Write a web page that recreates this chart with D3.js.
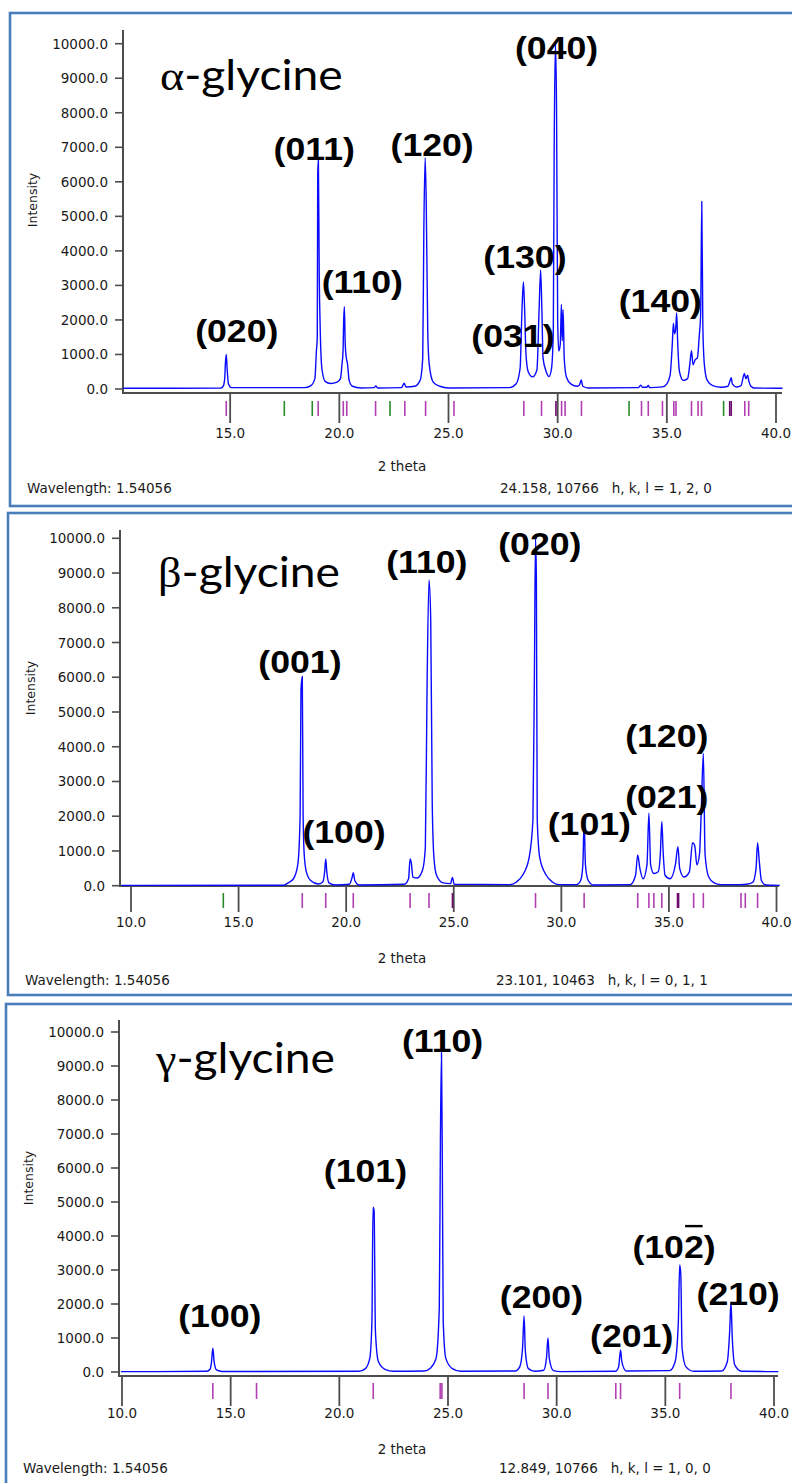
<!DOCTYPE html>
<html>
<head>
<meta charset="utf-8">
<script src="https://cdn.jsdelivr.net/npm/d3@7"></script>
<style>
  body { margin: 0; background: #fff; }
  svg text { fill: #1a1a1a; }
  .tick-text { font-family: "DejaVu Sans", Verdana, sans-serif; font-size: 13.5px; }
  .hkl { font-family: "Liberation Sans", Arial, sans-serif; font-weight: bold; font-size: 31px; fill: #000; }
</style>
</head>
<body>
<svg id="chart" width="792" height="1483"></svg>
<script>
"use strict";

// ---- data ----
const intensityTicks = [0, 1000, 2000, 3000, 4000, 5000, 6000, 7000, 8000, 9000, 10000];
const alphaThetaTicks = [15, 20, 25, 30, 35, 40];
const thetaTicks = [10, 15, 20, 25, 30, 35, 40];

// [2theta, intensity]
const alphaProfile = [
  [10.1, 20], [14.55, 25], [14.68, 80], [14.75, 300], [14.78, 720], [14.82, 1000], [14.86, 600], [14.92, 150], [15.05, 40],
  [18.4, 40], [18.7, 100], [18.88, 300], [18.95, 1100], [18.99, 1500], [19.01, 6200], [19.04, 6650], [19.08, 3250],
  [19.12, 1850], [19.2, 600], [19.35, 220], [19.6, 160], [19.9, 200], [20.05, 300], [20.12, 700], [20.17, 1100],
  [20.2, 2000], [20.23, 2380], [20.27, 1300], [20.32, 900], [20.37, 750], [20.45, 250], [20.6, 80], [21.0, 30],
  [21.6, 40], [21.67, 90], [21.75, 30], [22.85, 40], [22.97, 170], [23.05, 60], [23.45, 80], [23.7, 250], [23.82, 900],
  [23.87, 4550], [23.93, 6700], [23.98, 5400], [24.05, 1650], [24.12, 700], [24.3, 200], [24.6, 80], [25.0, 30],
  [27.8, 40], [28.1, 150], [28.28, 600], [28.36, 2190], [28.43, 3100], [28.48, 2430], [28.55, 1000], [28.65, 500],
  [28.85, 350], [29.05, 550], [29.15, 2300], [29.22, 3450], [29.28, 2200], [29.33, 900], [29.45, 550], [29.6, 360],
  [29.72, 600], [29.8, 1700], [29.84, 6900], [29.9, 10000], [29.95, 8000], [30.0, 2000], [30.05, 1100], [30.12, 1300],
  [30.17, 2450], [30.21, 1400], [30.25, 2300], [30.3, 900], [30.4, 350], [30.6, 150], [30.9, 80], [31.0, 120],
  [31.08, 260], [31.15, 80], [31.4, 30], [33.7, 40], [33.8, 110], [33.88, 50], [34.08, 50], [34.15, 100], [34.22, 40],
  [34.8, 60], [35.0, 150], [35.15, 400], [35.25, 1300], [35.3, 1900], [35.35, 1600], [35.4, 1700], [35.45, 2200],
  [35.5, 1300], [35.58, 500], [35.75, 250], [35.95, 300], [36.05, 700], [36.13, 1110], [36.2, 700], [36.3, 850],
  [36.4, 900], [36.48, 1500], [36.55, 2200], [36.6, 5430], [36.65, 1800], [36.72, 700], [36.85, 250], [37.1, 100],
  [37.5, 50], [37.8, 80], [37.9, 250], [37.95, 330], [38.0, 150], [38.2, 60], [38.4, 100], [38.5, 350], [38.55, 450],
  [38.62, 300], [38.7, 400], [38.75, 250], [38.85, 80], [39.0, 30], [40.3, 20]
];
const betaProfile = [
  [9.55, 10], [17.1, 15], [17.3, 80], [17.55, 200], [17.75, 600], [17.86, 2000], [17.9, 5650], [17.96, 6020],
  [18.0, 2000], [18.05, 900], [18.15, 400], [18.35, 150], [18.7, 50], [18.9, 100], [19.0, 400], [19.05, 770],
  [19.1, 400], [19.2, 80], [19.5, 20], [20.15, 40], [20.28, 250], [20.33, 375], [20.4, 150], [20.6, 20],
  [22.7, 40], [22.9, 200], [22.97, 770], [23.03, 650], [23.1, 250], [23.3, 220], [23.55, 450], [23.68, 1100],
  [23.76, 5730], [23.85, 8800], [23.93, 7650], [24.0, 2380], [24.08, 800], [24.2, 300], [24.5, 80], [24.85, 60],
  [24.94, 240], [25.02, 40], [27.6, 30], [27.9, 100], [28.2, 300], [28.5, 800], [28.68, 1900], [28.75, 6200],
  [28.8, 10000], [28.84, 8850], [28.88, 1900], [29.0, 800], [29.3, 300], [29.6, 100], [29.9, 30], [30.7, 30],
  [30.9, 150], [31.0, 600], [31.06, 1840], [31.12, 600], [31.25, 150], [31.5, 20], [33.2, 30], [33.45, 300],
  [33.55, 885], [33.65, 500], [33.8, 200], [33.98, 600], [34.07, 2085], [34.15, 600], [34.3, 350], [34.5, 400],
  [34.6, 900], [34.67, 1840], [34.73, 1000], [34.82, 300], [35.05, 200], [35.3, 600], [35.42, 1125], [35.5, 500],
  [35.7, 250], [35.95, 400], [36.1, 1240], [36.2, 1150], [36.3, 600], [36.42, 900], [36.5, 2090], [36.6, 3810],
  [36.68, 900], [36.85, 250], [37.1, 80], [37.4, 30], [38.3, 30], [38.6, 40], [38.9, 100], [39.05, 500],
  [39.12, 1240], [39.2, 700], [39.3, 150], [39.5, 20], [40.15, 10]
];
const gammaProfile = [
  [9.95, 10], [13.9, 20], [14.05, 80], [14.12, 300], [14.18, 700], [14.24, 300], [14.35, 60], [14.6, 15],
  [20.9, 20], [21.2, 100], [21.4, 400], [21.5, 1500], [21.55, 4850], [21.6, 4750], [21.66, 1200], [21.8, 300],
  [22.1, 80], [22.5, 20], [23.9, 30], [24.2, 120], [24.45, 400], [24.6, 1900], [24.65, 6700], [24.7, 9400],
  [24.74, 6000], [24.78, 1500], [24.9, 400], [25.2, 100], [25.6, 20], [28.1, 30], [28.3, 150], [28.43, 700],
  [28.5, 1650], [28.56, 600], [28.7, 100], [29.0, 20], [29.4, 50], [29.53, 400], [29.6, 1000], [29.66, 400],
  [29.85, 40], [30.2, 10], [32.7, 20], [32.85, 150], [32.94, 650], [33.0, 300], [33.2, 30], [35.2, 40],
  [35.45, 300], [35.6, 1500], [35.66, 3150], [35.71, 2900], [35.77, 700], [35.95, 150], [36.3, 20], [37.6, 30],
  [37.85, 300], [37.96, 1200], [38.02, 2050], [38.08, 1000], [38.2, 200], [38.5, 20], [40.2, 10]
];

// reflection markers (2theta)
const alphaRefl = [14.82, 19.03, 20.18, 20.34, 21.66, 23.0, 23.95, 25.25, 28.45, 29.26, 30.18, 30.34, 31.09,
  33.84, 34.15, 34.8, 35.32, 35.42, 36.13, 36.43, 36.59, 38.57, 38.75];
const alphaReflDark = [29.92, 37.88, 37.95];
const alphaReflGreen = [17.48, 18.76, 22.32, 33.27, 37.6];
const betaRefl = [17.96, 19.05, 20.33, 22.97, 23.85, 28.8, 31.06, 33.55, 34.07, 34.3, 34.67, 36.15, 36.6,
  38.35, 38.55, 39.12];
const betaReflDark = [24.94, 35.4, 35.45];
const betaReflGreen = [14.29];
const gammaRefl = [14.18, 16.19, 21.56, 24.64, 24.72, 28.5, 29.6, 32.72, 32.94, 35.66, 38.02];

// peak labels: [text, 2theta, intensity at label baseline]
const alphaLabels = [["(020)", 15.3, 1360], ["(011)", 18.85, 6640], ["(110)", 21.05, 2780],
  ["(120)", 24.25, 6750], ["(031)", 27.95, 1230], ["(130)", 28.5, 3500], ["(040)", 29.95, 9550],
  ["(140)", 34.7, 2230]];
const betaLabels = [["(001)", 17.85, 6120], ["(100)", 19.9, 1230], ["(110)", 23.75, 8990],
  ["(020)", 29.0, 9520], ["(101)", 31.3, 1460], ["(021)", 34.9, 2240], ["(120)", 34.9, 3980]];
const gammaLabels = [["(100)", 14.5, 1320], ["(101)", 21.2, 5590], ["(110)", 24.75, 9420],
  ["(200)", 29.3, 1880], ["(201)", 33.45, 740], ["(10|2|)", 35.4, 3350], ["(210)", 38.35, 1970]];

const phases = [
  { greek: "α", profile: alphaProfile, refl: alphaRefl, reflDark: alphaReflDark, reflGreen: alphaReflGreen,
    labels: alphaLabels, xticks: alphaThetaTicks, status: "24.158, 10766   h, k, l = 1, 2, 0" },
  { greek: "β", profile: betaProfile, refl: betaRefl, reflDark: betaReflDark, reflGreen: betaReflGreen,
    labels: betaLabels, xticks: thetaTicks, status: "23.101, 10463   h, k, l = 0, 1, 1" },
  { greek: "γ", profile: gammaProfile, refl: gammaRefl, reflDark: [], reflGreen: [],
    labels: gammaLabels, xticks: thetaTicks, status: "12.849, 10766   h, k, l = 1, 0, 0" }
];

// ---- layout of the three screenshots ----
const frames = [
  { left: 10, top: 13, bottom: 506, yAxisX: 123, x0: 121, x1: 776, yTop: 43.7, yZero: 389, axisY: 393, yAxisTop: 30,
    tickLen: 30, markTop: 401, markBot: 416, labelY: 438, thetaY: 471, statusY: 493, intensityY: 200, statusX: 500, axisEnd: 782 },
  { left: 8, top: 513, bottom: 995, yAxisX: 120, x0: 131, x1: 776.5, yTop: 538.3, yZero: 885.7, axisY: 886, yAxisTop: 530,
    tickLen: 26, markTop: 893, markBot: 908, labelY: 927, thetaY: 963, statusY: 985, intensityY: 688, statusX: 496, axisEnd: 779 },
  { left: 6, top: 1004, bottom: 1500, yAxisX: 119, x0: 122, x1: 774, yTop: 1032, yZero: 1372, axisY: 1376, yAxisTop: 1020,
    tickLen: 30, markTop: 1383, markBot: 1399, labelY: 1418, thetaY: 1454, statusY: 1473, intensityY: 1178, statusX: 499, axisEnd: 778 }
];

const svg = d3.select("#chart");
const axisColor = "#4d4d4d";

phases.forEach((p, i) => {
  const f = frames[i];
  const g = svg.append("g").classed("panel", true);
  const x = d3.scaleLinear().domain([10, 40]).range([f.x0, f.x1]);
  const y = d3.scaleLinear().domain([0, 10000]).range([f.yZero, f.yTop]);

  // window frame
  g.append("rect")
    .attr("x", f.left).attr("y", f.top)
    .attr("width", 820).attr("height", f.bottom - f.top)
    .attr("fill", "none").attr("stroke", "#4a7ebb").attr("stroke-width", 2.6);

  // y axis
  g.append("line")
    .attr("x1", f.yAxisX).attr("x2", f.yAxisX)
    .attr("y1", f.yAxisTop).attr("y2", f.axisY + 1)
    .attr("stroke", axisColor).attr("stroke-width", 2);
  const yt = g.append("g").selectAll("g").data(intensityTicks).enter().append("g");
  yt.append("line")
    .attr("x1", f.yAxisX - 8).attr("x2", f.yAxisX)
    .attr("y1", (d) => y(d)).attr("y2", (d) => y(d))
    .attr("stroke", axisColor).attr("stroke-width", 1.6);
  yt.append("text")
    .classed("tick-text", true)
    .attr("x", f.yAxisX - 15).attr("y", (d) => y(d) + 5)
    .attr("text-anchor", "end")
    .text((d) => d3.format(".1f")(d));
  g.append("text")
    .classed("tick-text", true)
    .attr("transform", `translate(${f.left + 27}, ${f.intensityY}) rotate(-90)`)
    .attr("text-anchor", "middle")
    .style("font-size", "12.5px")
    .text("Intensity");

  // x axis
  g.append("line")
    .attr("x1", f.yAxisX).attr("x2", f.axisEnd)
    .attr("y1", f.axisY).attr("y2", f.axisY)
    .attr("stroke", axisColor).attr("stroke-width", 2);
  const xt = g.append("g").selectAll("g").data(p.xticks).enter().append("g");
  xt.append("line")
    .attr("x1", (d) => x(d)).attr("x2", (d) => x(d))
    .attr("y1", f.axisY).attr("y2", f.axisY + f.tickLen)
    .attr("stroke", axisColor).attr("stroke-width", 1.8);
  xt.append("text")
    .classed("tick-text", true)
    .attr("x", (d) => x(d)).attr("y", f.labelY)
    .attr("text-anchor", "middle")
    .text((d) => d3.format(".1f")(d));
  g.append("text")
    .classed("tick-text", true)
    .attr("x", 402).attr("y", f.thetaY)
    .attr("text-anchor", "middle")
    .text("2 theta");

  // status bar
  g.append("text")
    .classed("tick-text", true)
    .attr("x", f.left + 17).attr("y", f.statusY)
    .text("Wavelength: 1.54056");
  g.append("text")
    .classed("tick-text", true)
    .attr("x", f.statusX).attr("y", f.statusY)
    .style("white-space", "pre")
    .text(p.status);

  // reflection markers
  const marks = [
    ...p.refl.map((v) => ({ v, c: "#b13fb1" })),
    ...p.reflDark.map((v) => ({ v, c: "#6e0a6e" })),
    ...p.reflGreen.map((v) => ({ v, c: "#2a8a2a" }))
  ];
  g.append("g").selectAll("line").data(marks).enter().append("line")
    .attr("x1", (d) => x(d.v)).attr("x2", (d) => x(d.v))
    .attr("y1", f.markTop).attr("y2", f.markBot)
    .attr("stroke", (d) => d.c).attr("stroke-width", 1.6);

  // diffraction profile
  const line = d3.line()
    .x((d) => x(d[0]))
    .y((d) => y(d[1]))
    .curve(d3.curveMonotoneX);
  g.append("path")
    .datum(p.profile)
    .attr("d", line)
    .attr("fill", "none")
    .attr("stroke", "#0a0aff")
    .attr("stroke-width", 1.4)
    .attr("stroke-linejoin", "round");

  // title
  const title = g.append("text")
    .attr("transform", `translate(${f.left + 150}, ${y(0) - 299}) scale(1.1, 1)`)
    .style("font-size", "42px").style("fill", "#000");
  title.append("tspan").style("font-family", "'Liberation Serif', serif").text(p.greek);
  title.append("tspan").style("font-family", "Lato, 'Open Sans', sans-serif").text("-glycine");

  // Miller index labels
  p.labels.forEach(([txt, tx, ty]) => {
    const lg = g.append("g")
      .attr("transform", `translate(${x(tx)}, ${y(ty)}) scale(1.15, 1)`);
    const parts = txt.split("|");
    const t = lg.append("text").classed("hkl", true).attr("text-anchor", "middle");
    parts.forEach((s) => t.append("tspan").text(s));
    if (parts.length > 1) {
      // overbar on the negative index
      const start = parts[0].length;
      const box = t.node().getExtentOfChar(start);
      lg.append("line")
        .attr("x1", box.x + 1).attr("x2", box.x + box.width - 1)
        .attr("y1", -32).attr("y2", -32)
        .attr("stroke", "#000").attr("stroke-width", 2.4);
    }
  });
});
</script>
</body>
</html>
